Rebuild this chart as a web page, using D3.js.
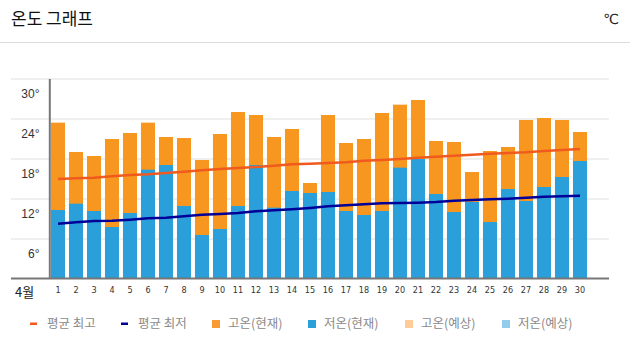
<!DOCTYPE html>
<html><head><meta charset="utf-8">
<script src="https://cdn.jsdelivr.net/npm/d3@7"></script>
<style>html,body{margin:0;padding:0;background:#fff;overflow:hidden}</style>
</head><body>
<svg id="c" width="630" height="355"></svg>
<script>
const days = ["1","2","3","4","5","6","7","8","9","10","11","12","13","14","15","16","17","18","19","20","21","22","23","24","25","26","27","28","29","30"];
const highs = [23.45,19.05,18.45,21.0,21.9,23.45,21.3,21.15,17.85,21.75,25.05,24.6,21.3,22.5,14.4,24.6,20.4,21.0,24.9,26.15,26.85,20.7,20.55,16.05,19.2,19.8,23.85,24.15,23.85,22.05];
const lows = [10.35,11.3,10.2,7.8,9.9,16.4,17.1,10.95,6.6,7.5,10.95,17.1,10.7,13.2,12.9,13.05,10.2,9.6,10.2,16.7,18.0,12.75,10.05,11.55,8.55,13.5,11.7,13.8,15.3,17.7];
const avgHigh = [15.0,15.1,15.2,15.4,15.6,15.7,15.9,16.1,16.3,16.5,16.65,16.8,17.0,17.2,17.3,17.4,17.5,17.75,17.85,18.0,18.2,18.35,18.5,18.65,18.8,18.9,19.0,19.2,19.35,19.5];
const avgLow = [8.3,8.5,8.7,8.75,8.9,9.1,9.2,9.4,9.65,9.75,9.9,10.15,10.3,10.45,10.65,10.9,11.05,11.2,11.35,11.4,11.45,11.55,11.75,11.85,11.95,12.05,12.2,12.35,12.4,12.5];
const yTicks = [6,12,18,24,30];
const yTickLabels = ["6°","12°","18°","24°","30°"];
const title = "온도 그래프";
const unit = "℃";
const monthLabel = "4월";
const legendItems = [
  {label:"평균 최고", type:"line", color:"#f05a1e"},
  {label:"평균 최저", type:"line", color:"#000099"},
  {label:"고온(현재)", type:"rect", color:"#f99a32"},
  {label:"저온(현재)", type:"rect", color:"#2a9fd8"},
  {label:"고온(예상)", type:"rect", color:"#ffcc99"},
  {label:"저온(예상)", type:"rect", color:"#92cdee"}
];

const svg = d3.select("#c");
const KR = "'Noto Sans CJK KR','Noto Sans',sans-serif";

// header
svg.append("text").attr("x",11).attr("y",25).attr("font-family",KR).attr("font-size",17)
  .attr("fill","#111").attr("textLength",82).attr("lengthAdjust","spacing").text(title);
svg.append("text").attr("x",619).attr("y",24).attr("text-anchor","end").attr("font-family","'DejaVu Sans',sans-serif")
  .attr("font-size",14).attr("fill","#222").text(unit);
svg.append("line").attr("x1",0).attr("x2",630).attr("y1",42.5).attr("y2",42.5).attr("stroke","#dcdcdc").attr("stroke-width",1);

const y = d3.scaleLinear().domain([0,30]).range([279,79]);
const x = d3.scaleBand().domain(days).range([49,589]).paddingInner(0.22).paddingOuter(0.11);

// gridlines
const grid = svg.append("g");
grid.selectAll("line").data(yTicks).join("line")
  .attr("x1",11).attr("x2",609).attr("y1",d=>y(d)).attr("y2",d=>y(d))
  .attr("stroke","#efefef").attr("stroke-width",2);

// y labels
svg.append("g").selectAll("text").data(yTicks).join("text")
  .attr("x",39.5).attr("y",(d)=>y(d)+15).attr("dy","0.35em").attr("text-anchor","end")
  .attr("font-family","'Liberation Sans',sans-serif").attr("font-size",12).attr("fill","#333")
  .text((d,i)=>yTickLabels[i]);

// bars
svg.append("g").selectAll("rect").data(days).join("rect")
  .attr("x",d=>x(d)).attr("width",x.bandwidth())
  .attr("y",(d,i)=>y(highs[i])).attr("height",(d,i)=>y(0)-y(highs[i]))
  .attr("fill","#f7971f");
svg.append("g").selectAll("rect").data(days).join("rect")
  .attr("x",d=>x(d)).attr("width",x.bandwidth())
  .attr("y",(d,i)=>y(lows[i])).attr("height",(d,i)=>y(0)-y(lows[i]))
  .attr("fill","#2b9fd9");

// axes lines
svg.append("line").attr("x1",49.8).attr("x2",49.8).attr("y1",79).attr("y2",279).attr("stroke","#777").attr("stroke-width",2);
svg.append("line").attr("x1",11).attr("x2",609).attr("y1",278.5).attr("y2",278.5).attr("stroke","#777").attr("stroke-width",2);

// x labels
const xAxis = d3.axisBottom(x).tickSize(0).tickPadding(0);
const xg = svg.append("g").attr("transform","translate(0,287)").call(xAxis);
xg.select(".domain").remove();
xg.selectAll("text").attr("font-family","'DejaVu Sans Condensed','DejaVu Sans',sans-serif").attr("font-size",9).attr("fill","#333").attr("dy","0.71em");
svg.append("text").attr("x",15).attr("y",292).attr("dy","0.35em").attr("font-family",KR).attr("font-size",13).attr("fill","#222").text(monthLabel);

// avg lines
const cx = d=>x(d)+x.bandwidth()/2;
const lineH = d3.line().x((d,i)=>cx(days[i])).y(d=>y(d));
svg.append("path").datum(avgHigh).attr("d",lineH).attr("fill","none").attr("stroke","#f05a1e").attr("stroke-width",2.5);
svg.append("path").datum(avgLow).attr("d",lineH).attr("fill","none").attr("stroke","#000099").attr("stroke-width",2.5);

// legend
const legendX = [30,121,212,308,405,502];
const lg = svg.append("g");
legendItems.forEach((it,i)=>{
  const gx = legendX[i];
  if(it.type==="line"){
    lg.append("rect").attr("x",gx).attr("y",322.5).attr("width",7).attr("height",2.5).attr("fill",it.color);
  } else {
    lg.append("rect").attr("x",gx).attr("y",320).attr("width",8).attr("height",8).attr("fill",it.color);
  }
  const tx = gx + (it.type==="line"?17:16);
  lg.append("text").attr("x",tx).attr("y",324).attr("dy","0.35em").attr("font-family",KR).attr("font-size",12.5)
    .attr("fill","#8a8a8a").text(it.label);
});
</script>
</body></html>
